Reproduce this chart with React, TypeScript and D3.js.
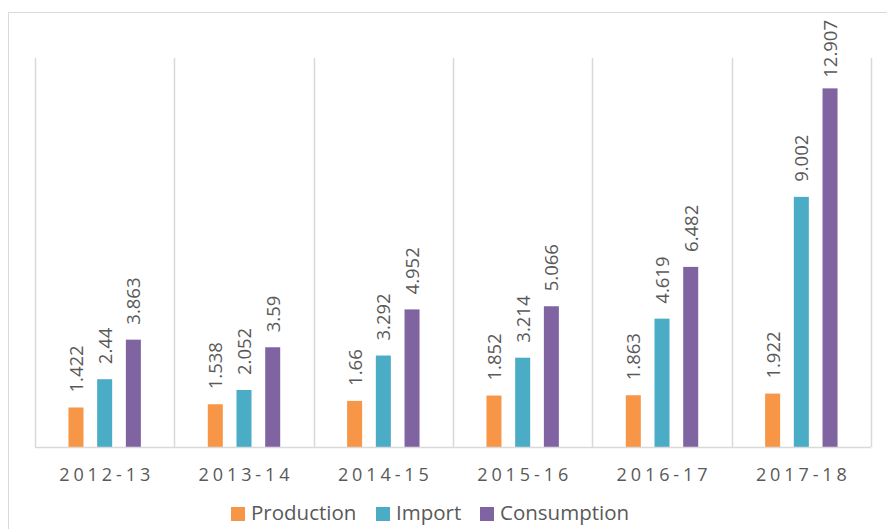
import { useEffect, useRef } from 'react';
import * as d3 from 'd3';

const categories = ['2012-13', '2013-14', '2014-15', '2015-16', '2016-17', '2017-18'];
const seriesNames = ['Production', 'Import', 'Consumption'];
const production = [1.422, 1.538, 1.66, 1.852, 1.863, 1.922];
const imports = [2.44, 2.052, 3.292, 3.214, 4.619, 9.002];
const consumption = [3.863, 3.59, 4.952, 5.066, 6.482, 12.907];
const seriesColors = ['#F79646', '#4BACC6', '#8064A2'];

const App = () => {
  const svgRef = useRef<SVGSVGElement | null>(null);

  useEffect(() => {
    if (!svgRef.current) return;
    const svg = d3.select(svgRef.current);
    svg.selectAll('*').remove();

    const width = 887;
    const height = 529;
    const margin = { top: 58, right: 16, bottom: 82, left: 35 };
    const values = [production, imports, consumption];
    const font = "'Open Sans', 'Noto Sans', sans-serif";
    const textColor = '#595959';
    const gridColor = '#d9d9d9';

    svg.attr('width', width).attr('height', height);

    // outer chart border
    svg.append('rect')
      .attr('x', 8.5)
      .attr('y', 12.5)
      .attr('width', width + 20)
      .attr('height', height)
      .attr('fill', 'none')
      .attr('stroke', gridColor);

    const x = d3.scaleBand()
      .domain(categories)
      .range([margin.left, width - margin.right])
      .padding(0);

    const bw = x.bandwidth();
    const groupSpan = 86.1;
    const x1 = d3.scaleBand()
      .domain(seriesNames)
      .range([bw / 2 - groupSpan / 2, bw / 2 + groupSpan / 2])
      .paddingInner(0.477)
      .paddingOuter(0.2385);

    const y = d3.scaleLinear()
      .domain([0, 14])
      .range([height - margin.bottom, margin.top]);

    // category separators
    const bounds = categories.map(c => x(c) as number).concat([width - margin.right]);
    svg.append('g')
      .selectAll('line')
      .data(bounds)
      .enter()
      .append('line')
      .attr('x1', d => Math.round(d) + 0.5)
      .attr('x2', d => Math.round(d) + 0.5)
      .attr('y1', y(14))
      .attr('y2', y(0))
      .attr('stroke', gridColor)
      .attr('stroke-width', 1.5);

    // bars + labels
    seriesNames.forEach((name, si) => {
      const g = svg.append('g');
      g.selectAll('rect')
        .data(values[si])
        .enter()
        .append('rect')
        .attr('x', (d, i) => (x(categories[i]) as number) + (x1(name) as number))
        .attr('y', d => y(d))
        .attr('width', x1.bandwidth())
        .attr('height', d => y(0) - y(d))
        .attr('fill', seriesColors[si]);

      g.selectAll('text')
        .data(values[si])
        .enter()
        .append('text')
        .attr('fill', textColor)
        .style('font-family', font)
        .style('font-size', '18.5px')
        .text(d => String(d))
        .each(function (d, i) {
          const el = this as SVGTextElement;
          const len = el.getComputedTextLength();
          const cx = (x(categories[i]) as number) + (x1(name) as number) + x1.bandwidth() / 2 + 7;
          // keep the label inside the chart area, as the original does
          const start = Math.max(y(d) - 15, 20 + len);
          d3.select(el).attr('transform', `translate(${cx},${start}) rotate(-90)`);
        });
    });

    // x axis
    svg.append('line')
      .attr('x1', margin.left)
      .attr('x2', width - margin.right)
      .attr('y1', y(0) + 0.5)
      .attr('y2', y(0) + 0.5)
      .attr('stroke', gridColor)
      .attr('stroke-width', 1.5);

    svg.append('g')
      .selectAll('text')
      .data(categories)
      .enter()
      .append('text')
      .attr('x', d => (x(d) as number) + bw / 2 + 2)
      .attr('y', 481)
      .attr('text-anchor', 'middle')
      .attr('fill', textColor)
      .style('font-family', font)
      .style('font-size', '18px')
      .style('letter-spacing', '3.9px')
      .text(d => d);

    // legend
    const legendX = [231, 376, 480];
    const legend = svg.append('g');
    seriesNames.forEach((name, i) => {
      legend.append('rect')
        .attr('x', legendX[i])
        .attr('y', 507)
        .attr('width', 14)
        .attr('height', 14)
        .attr('fill', seriesColors[i]);
      legend.append('text')
        .attr('x', legendX[i] + 20)
        .attr('y', 520)
        .attr('fill', textColor)
        .style('font-family', font)
        .style('font-size', '20.5px')
        .text(name);
    });
  }, []);

  return (
    <svg ref={svgRef} style={{ position: 'absolute', left: 0, top: 0, display: 'block' }} />
  );
};

export default App;
